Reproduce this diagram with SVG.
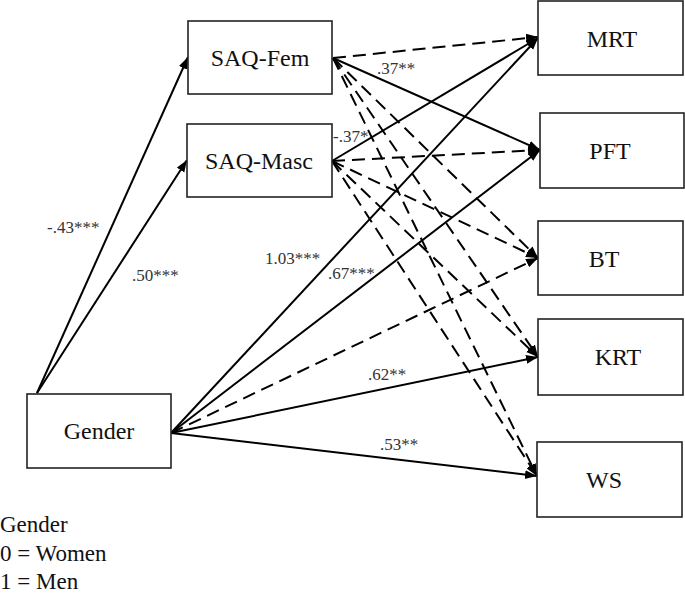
<svg xmlns="http://www.w3.org/2000/svg" width="685" height="594" viewBox="0 0 685 594" font-family="'Liberation Serif', 'DejaVu Serif', 'Times New Roman', serif">
<style>
.box{fill:#fff;stroke:#222;stroke-width:1.6}
text{font-family:'Liberation Serif','DejaVu Serif','Times New Roman',serif}
.lbl{font-size:24px;fill:#111;text-anchor:middle}
.leg{font-size:23px;fill:#111}
.coef{font-size:17px;fill:#333}
.s{fill:none;stroke:#000;stroke-width:2;marker-end:url(#ah)}
.d{fill:none;stroke:#000;stroke-width:2;stroke-dasharray:13 7;marker-end:url(#ah)}
</style>
<defs>
<marker id="ah" markerUnits="userSpaceOnUse" markerWidth="13" markerHeight="10" refX="12" refY="4.5" orient="auto">
<path d="M0,0 L12,4.5 L0,9 z" fill="#000"/>
</marker>
</defs>
<g id="connectors">
<line class="s" x1="37" y1="393" x2="188" y2="57"/>
<line class="s" x1="37" y1="393" x2="187" y2="160"/>
<line class="s" x1="171" y1="433" x2="538" y2="38"/>
<line class="s" x1="171" y1="433" x2="540" y2="150"/>
<line class="d" x1="171" y1="433" x2="538" y2="258"/>
<line class="s" x1="171" y1="433" x2="538" y2="357"/>
<line class="s" x1="171" y1="433" x2="537" y2="476"/>
<line class="d" x1="333" y1="58" x2="538" y2="37"/>
<line class="s" x1="333" y1="58" x2="540" y2="150"/>
<line class="d" x1="333" y1="58" x2="538" y2="258"/>
<line class="d" x1="333" y1="58" x2="538" y2="357"/>
<line class="d" x1="333" y1="58" x2="537" y2="476"/>
<line class="s" x1="332" y1="161" x2="538" y2="38"/>
<line class="d" x1="332" y1="161" x2="540" y2="150"/>
<line class="d" x1="332" y1="161" x2="538" y2="258"/>
<line class="d" x1="332" y1="161" x2="538" y2="357"/>
<line class="d" x1="332" y1="161" x2="537" y2="476"/>
</g>
<g id="coefficients">
<text class="coef" x="377" y="74">.37**</text>
<text class="coef" x="333" y="142">-.37*</text>
<text class="coef" x="47" y="233">-.43***</text>
<text class="coef" x="132" y="281">.50***</text>
<text class="coef" x="265" y="264">1.03***</text>
<text class="coef" x="328" y="279">.67***</text>
<text class="coef" x="368" y="380">.62**</text>
<text class="coef" x="380" y="450">.53**</text>
</g>
<g id="SAQ-Fem"><rect class="box" x="188" y="21" width="144" height="73"/><text class="lbl" x="260" y="66">SAQ-Fem</text></g>
<g id="SAQ-Masc"><rect class="box" x="187" y="124" width="145" height="73"/><text class="lbl" x="259" y="169">SAQ-Masc</text></g>
<g id="Gender"><rect class="box" x="27" y="394" width="144" height="74"/><text class="lbl" x="99" y="439">Gender</text></g>
<g id="MRT"><rect class="box" x="538" y="1" width="145" height="74"/><text class="lbl" x="612" y="47">MRT</text></g>
<g id="PFT"><rect class="box" x="540" y="113" width="144" height="75"/><text class="lbl" x="610" y="159">PFT</text></g>
<g id="BT"><rect class="box" x="538" y="221" width="145" height="74"/><text class="lbl" x="604" y="267">BT</text></g>
<g id="KRT"><rect class="box" x="538" y="319" width="145" height="76"/><text class="lbl" x="618" y="365">KRT</text></g>
<g id="WS"><rect class="box" x="537" y="442" width="145" height="75"/><text class="lbl" x="604" y="488">WS</text></g>
<g id="legend">
<text class="leg" x="0" y="532">Gender</text>
<text class="leg" x="0" y="561">0 = Women</text>
<text class="leg" x="0" y="589">1 = Men</text>
</g>
</svg>
